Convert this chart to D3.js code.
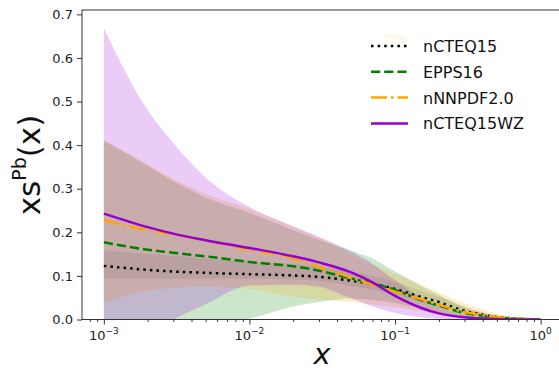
<!DOCTYPE html>
<html>
<head>
<meta charset="utf-8">
<script src="https://cdn.jsdelivr.net/npm/d3@7"></script>
<style>
  body { margin: 0; background: #fff; }
  svg { display: block; font-family: "DejaVu Sans", sans-serif; }
</style>
</head>
<body>
<svg id="chart" width="559" height="372"></svg>
<script>
const width = 559;
const height = 372;
const svg = d3.select("#chart");

// sample points in x
const xs = [0.001, 0.002, 0.003, 0.005, 0.01, 0.02, 0.03, 0.05, 0.07, 0.1, 0.15, 0.2, 0.3, 0.5, 0.7, 1.0];

// central values
const ncteq15 = [0.123, 0.114, 0.110, 0.107, 0.104, 0.101, 0.098, 0.089, 0.082, 0.070, 0.052, 0.040, 0.020, 0.006, 0.002, 0];
const epps16 = [0.177, 0.160, 0.153, 0.145, 0.132, 0.122, 0.112, 0.094, 0.083, 0.068, 0.045, 0.032, 0.015, 0.005, 0.0015, 0];
const nnnpdf20 = [0.228, 0.205, 0.195, 0.181, 0.160, 0.140, 0.121, 0.096, 0.080, 0.064, 0.047, 0.034, 0.017, 0.006, 0.002, 0];
const ncteq15wz = [0.243, 0.212, 0.197, 0.182, 0.164, 0.145, 0.131, 0.108, 0.085, 0.054, 0.027, 0.014, 0.005, 0.001, 0.0002, 0];

// uncertainty bands
const ncteq15Up = [0.159, 0.150, 0.146, 0.140, 0.133, 0.127, 0.122, 0.110, 0.100, 0.087, 0.066, 0.052, 0.028, 0.009, 0.003, 0];
const ncteq15Lo = [0.094, 0.094, 0.094, 0.094, 0.094, 0.092, 0.089, 0.077, 0.068, 0.056, 0.040, 0.029, 0.013, 0.003, 0.001, 0];
const epps16Up = [0.410, 0.352, 0.317, 0.280, 0.245, 0.205, 0.183, 0.158, 0.140, 0.110, 0.078, 0.056, 0.029, 0.008, 0.002, 0];
const epps16Lo = [-0.15, -0.09, -0.05, -0.02, 0.002, 0.030, 0.040, 0.048, 0.045, 0.038, 0.025, 0.015, 0.005, 0.001, 0, 0];
const nnnpdfUp = [0.412, 0.357, 0.323, 0.288, 0.254, 0.213, 0.188, 0.150, 0.125, 0.105, 0.080, 0.062, 0.037, 0.014, 0.005, 0];
const nnnpdfLo = [0.038, 0.066, 0.072, 0.075, 0.070, 0.052, 0.046, 0.040, 0.034, 0.028, 0.019, 0.012, 0.005, 0.001, 0, 0];
const wzUp = [0.668, 0.480, 0.405, 0.326, 0.258, 0.214, 0.190, 0.156, 0.128, 0.090, 0.051, 0.030, 0.011, 0.002, 0.0005, 0];
const wzLo = [-0.08, -0.03, 0.0, 0.035, 0.078, 0.080, 0.075, 0.048, 0.030, 0.015, 0.005, 0.002, 0, 0, 0, 0];

const yTicks = [0, 0.1, 0.2, 0.3, 0.4, 0.5, 0.6, 0.7];
const xTicks = [1e-3, 1e-2, 1e-1, 1];
const xTickExp = ["\u22123", "\u22122", "\u22121", "0"];

const series = [
  { name: "nCTEQ15", y: ncteq15, up: ncteq15Up, lo: ncteq15Lo, color: "#000000", fill: "#000000", alpha: 0.07, dash: "2.5,4.1" },
  { name: "EPPS16", y: epps16, up: epps16Up, lo: epps16Lo, color: "#008000", fill: "#008000", alpha: 0.2, dash: "9.2,4" },
  { name: "nNNPDF2.0", y: nnnpdf20, up: nnnpdfUp, lo: nnnpdfLo, color: "#ffa500", fill: "#ffa500", alpha: 0.2, dash: "16,4,2.5,4" },
  { name: "nCTEQ15WZ", y: ncteq15wz, up: wzUp, lo: wzLo, color: "#9400d3", fill: "#9400d3", alpha: 0.2, dash: null }
];

const margin = { left: 82, right: 562.5, top: 10, bottom: 319.5 };
const x = d3.scaleLog().domain([Math.pow(10, -3.15), Math.pow(10, 0.15)]).range([margin.left, margin.right]);
const y = d3.scaleLinear().domain([0, 0.71]).range([margin.bottom, margin.top]);

svg.append("defs").append("clipPath").attr("id", "plot")
  .append("rect").attr("x", margin.left).attr("y", margin.top)
  .attr("width", margin.right - margin.left).attr("height", margin.bottom - margin.top);

const plot = svg.append("g").attr("clip-path", "url(#plot)");

// bands: nCTEQ15 last so it darkens the overlap
const bandOrder = [series[1], series[2], series[3], series[0]];
bandOrder.forEach(s => {
  const area = d3.area()
    .x((d, i) => x(xs[i]))
    .y0((d, i) => y(s.lo[i]))
    .y1((d, i) => y(s.up[i]))
    .curve(d3.curveMonotoneX);
  plot.append("path")
    .attr("d", area(xs))
    .attr("fill", s.fill)
    .attr("fill-opacity", s.alpha)
    .attr("stroke", "none");
});

// central lines
series.forEach(s => {
  const line = d3.line()
    .x((d, i) => x(xs[i]))
    .y((d, i) => y(s.y[i]))
    .curve(d3.curveMonotoneX);
  plot.append("path")
    .attr("d", line(xs))
    .attr("fill", "none")
    .attr("stroke", s.color)
    .attr("stroke-width", 2.5)
    .attr("stroke-dasharray", s.dash);
});

// axes
const yAxis = svg.append("g")
  .attr("transform", `translate(${margin.left},0)`)
  .call(d3.axisLeft(y).tickValues(yTicks).tickFormat(d3.format(".1f")).tickSize(5).tickPadding(4));
yAxis.select(".domain").remove();
yAxis.selectAll("text").attr("font-size", 13).attr("fill", "#222").attr("font-family", "DejaVu Sans");
yAxis.selectAll("line").attr("stroke", "#333");

const minor = [];
for (let e = -4; e <= 0; e++) {
  for (let m = 2; m <= 9; m++) {
    const v = m * Math.pow(10, e);
    if (v > x.domain()[0] && v < x.domain()[1]) minor.push(v);
  }
}
const xMinor = svg.append("g")
  .attr("transform", `translate(0,${margin.bottom})`)
  .call(d3.axisBottom(x).tickValues(minor).tickFormat("").tickSize(2.5));
xMinor.select(".domain").remove();
xMinor.selectAll("line").attr("stroke", "#333");

const xAxis = svg.append("g")
  .attr("transform", `translate(0,${margin.bottom})`)
  .call(d3.axisBottom(x).tickValues(xTicks).tickFormat("").tickSize(5));
xAxis.select(".domain").remove();
xAxis.selectAll("line").attr("stroke", "#333");

const xLab = svg.append("g");
xTicks.forEach((t, i) => {
  const txt = xLab.append("text")
    .attr("x", x(t))
    .attr("y", 340)
    .attr("text-anchor", "middle")
    .attr("font-size", 13)
    .attr("fill", "#222");
  txt.append("tspan").text("10");
  txt.append("tspan").attr("font-size", 9).attr("dy", -6).text(xTickExp[i]);
});

// frame
svg.append("rect")
  .attr("x", margin.left).attr("y", margin.top)
  .attr("width", margin.right - margin.left).attr("height", margin.bottom - margin.top)
  .attr("fill", "none").attr("stroke", "#333").attr("stroke-width", 1);

// axis titles
svg.append("text")
  .attr("x", 322).attr("y", 364)
  .attr("text-anchor", "middle")
  .attr("font-size", 29)
  .attr("font-style", "italic")
  .attr("fill", "#111")
  .text("x");

const yt = svg.append("text")
  .attr("transform", "translate(40,165) rotate(-90)")
  .attr("text-anchor", "middle")
  .attr("font-size", 31)
  .attr("fill", "#111");
yt.append("tspan").text("xs");
yt.append("tspan").attr("font-size", 19).attr("dy", -14).text("Pb");
yt.append("tspan").attr("dy", 14).text("(x)");

// legend
const legend = svg.append("g").attr("transform", "translate(371,46)");
legend.append("path")
  .attr("d", "M11,-13 L24,-13 L36,-9 L36,-3 L18,-3 Z")
  .attr("fill", "#ffa500").attr("fill-opacity", 0.07);
series.forEach((s, i) => {
  const row = legend.append("g").attr("transform", `translate(0,${i * 25.8})`);
  row.append("line")
    .attr("x1", 0).attr("x2", 37)
    .attr("stroke", s.color)
    .attr("stroke-width", 2.5)
    .attr("stroke-dasharray", s.dash);
  row.append("text")
    .attr("x", 52).attr("y", 6)
    .attr("font-size", 16)
    .attr("fill", "#111")
    .text(s.name);
});
</script>
</body>
</html>
